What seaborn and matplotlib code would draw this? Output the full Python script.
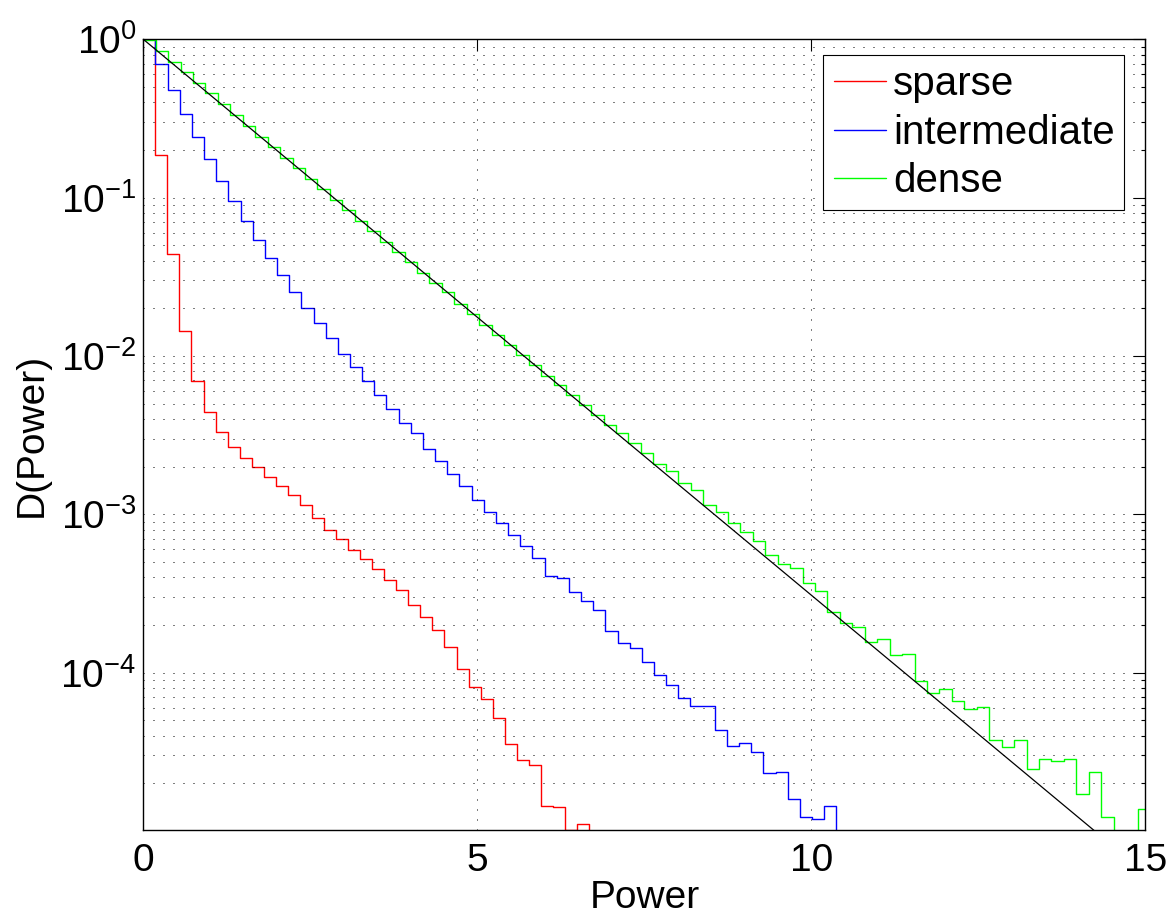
import numpy as np
import pandas as pd
import matplotlib
matplotlib.use("Agg")
import matplotlib.pyplot as plt
import seaborn as sns
from matplotlib.lines import Line2D
from matplotlib.ticker import LogLocator, NullFormatter, FixedLocator, FixedFormatter, LogFormatterSciNotation

# ---------------- data ----------------
series_labels = ["sparse", "intermediate", "dense"]
series_colors = ["#ff0000", "#0000ff", "#00ff00"]

# histogram bin widths (each bin i spans [i*w, (i+1)*w])
sparse_bin_width = 0.1803
intermediate_bin_width = 0.1820
dense_bin_width = 0.18619

# D(Power) per bin; the first sparse / intermediate bins lie above the plot top
sparse_D = [4.0, 0.187, 0.0441, 0.01445, 0.00698, 0.00442, 0.00332, 0.00268,
            0.00228, 0.00199, 0.00173, 0.00150, 0.00132, 0.00114, 9.51e-4,
            7.96e-4, 6.95e-4, 5.94e-4, 5.19e-4, 4.53e-4, 3.85e-4, 3.33e-4,
            2.68e-4, 2.23e-4, 1.85e-4, 1.45e-4, 1.06e-4, 8.11e-5, 6.81e-5,
            5.19e-5, 3.53e-5, 2.79e-5, 2.60e-5, 1.44e-5, 1.42e-5, 1.02e-5,
            1.10e-5]

intermediate_D = [1.5, 0.695, 0.480, 0.338, 0.241, 0.175, 0.127, 0.0951,
                  0.0714, 0.0542, 0.0417, 0.0325, 0.0255, 0.0201, 0.0162,
                  0.0130, 0.01035, 0.00847, 0.00690, 0.00569, 0.00461,
                  0.00376, 0.00324, 0.00259, 0.00218, 0.00179, 0.00150,
                  0.00124, 0.00104, 8.77e-4, 7.40e-4, 6.27e-4, 5.28e-4,
                  4.09e-4, 3.95e-4, 3.22e-4, 2.82e-4, 2.47e-4, 1.83e-4,
                  1.55e-4, 1.43e-4, 1.17e-4, 9.66e-5, 8.32e-5, 6.95e-5,
                  6.15e-5, 6.15e-5, 4.32e-5, 3.44e-5, 3.62e-5, 3.15e-5,
                  2.34e-5, 2.37e-5, 1.60e-5, 1.23e-5, 1.19e-5, 1.43e-5]

dense_D = [0.991, 0.847, 0.721, 0.621, 0.531, 0.455, 0.389, 0.332, 0.284,
           0.242, 0.208, 0.178, 0.153, 0.131, 0.113, 0.0973, 0.0834, 0.0711,
           0.0612, 0.0527, 0.0453, 0.0390, 0.0334, 0.0290, 0.0252, 0.0213,
           0.0185, 0.0158, 0.0136, 0.0117, 0.0101, 0.00881, 0.00750,
           0.00655, 0.00564, 0.00488, 0.00421, 0.00367, 0.00326, 0.00281,
           0.00243, 0.00207, 0.00187, 0.00158, 0.00142, 0.00115, 0.00103,
           8.87e-4, 7.73e-4, 6.75e-4, 5.50e-4, 4.82e-4, 4.55e-4, 3.67e-4,
           3.30e-4, 2.41e-4, 2.07e-4, 1.93e-4, 1.57e-4, 1.62e-4, 1.30e-4,
           1.32e-4, 8.89e-5, 7.45e-5, 7.83e-5, 6.65e-5, 5.86e-5, 6.10e-5,
           3.78e-5, 3.37e-5, 3.78e-5, 2.45e-5, 2.86e-5, 2.76e-5, 2.86e-5,
           1.71e-5, 2.36e-5, 1.22e-5, 0.0, 0.0, 1.38e-5]

# reference exponential law (straight line on the semilog axes)
theory_power = [0.0, 14.24]
theory_D = [1.0, 1.0e-5]

x_ticks = [0, 5, 10, 15]
x_tick_labels = ["0", "5", "10", "15"]
y_ticks = [1e-4, 1e-3, 1e-2, 1e-1, 1e0]


def steps_frame(name, width, values):
    edges = width * np.arange(len(values) + 1)
    d = list(values) + [0.0]
    return pd.DataFrame({"Power": edges, "D": d, "series": name})


df = pd.concat([
    steps_frame("sparse", sparse_bin_width, sparse_D),
    steps_frame("intermediate", intermediate_bin_width, intermediate_D),
    steps_frame("dense", dense_bin_width, dense_D),
], ignore_index=True)

# ---------------- style ----------------
sns.set_style("white")
plt.rcParams.update({
    "font.family": ["Liberation Sans", "DejaVu Sans"],
    "mathtext.fontset": "custom",
    "mathtext.rm": "Liberation Sans",
    "mathtext.it": "Liberation Sans:italic",
    "mathtext.bf": "Liberation Sans:bold",
    "font.size": 28,
    "axes.unicode_minus": True,
    "text.color": "black",
    "axes.labelcolor": "black",
    "xtick.color": "black",
    "ytick.color": "black",
    "axes.edgecolor": "black",
})

fig = plt.figure(figsize=(11.71, 9.17), dpi=100)
ax = fig.add_axes([0.12237, 0.09455, 0.85585, 0.86260])

sns.lineplot(data=df, x="Power", y="D", hue="series", hue_order=series_labels,
             palette=series_colors, estimator=None, sort=False,
             drawstyle="steps-post", linewidth=1.0, ax=ax, legend=False)
sns.lineplot(x=theory_power, y=theory_D, color="k", linewidth=0.9, ax=ax,
             legend=False, estimator=None, sort=False)

ax.set_yscale("log")
ax.set_xlim(0, 15)
ax.set_ylim(1.01e-5, 1.0)

ax.xaxis.set_major_locator(FixedLocator(x_ticks))
ax.xaxis.set_major_formatter(FixedFormatter(x_tick_labels))
ax.yaxis.set_major_locator(FixedLocator(y_ticks))
ax.yaxis.set_major_formatter(LogFormatterSciNotation())
ax.yaxis.set_minor_locator(LogLocator(base=10, subs=np.arange(2, 10), numticks=20))
ax.yaxis.set_minor_formatter(NullFormatter())

ax.tick_params(which="both", direction="in", top=True, right=True,
               color="k", width=0.8, labelsize=28, labelcolor="k")
ax.tick_params(which="major", length=8.5)
ax.tick_params(which="minor", length=3.2)
ax.tick_params(axis="x", which="major", pad=9)
ax.tick_params(axis="y", which="major", pad=5)

grid_kw = dict(color="k", linewidth=0.72, linestyle=(0, (1, 9)))
ax.grid(True, which="major", axis="both", **grid_kw)
ax.grid(True, which="minor", axis="y", **grid_kw)
ax.set_axisbelow(False)

for sp in ax.spines.values():
    sp.set_color("k")
    sp.set_linewidth(1.0)

ax.set_xlabel("Power", fontsize=28, color="k")
ax.set_ylabel("D(Power)", fontsize=28, color="k")
ax.xaxis.set_label_coords(0.5, -0.063)
ax.yaxis.set_label_coords(-0.093, 0.5)
ax.xaxis.label.set_va("top")

handles = [Line2D([0], [0], color=c, linewidth=1.0) for c in series_colors]
leg = ax.legend(handles, series_labels, loc="upper right",
                bbox_to_anchor=(0.979, 0.980), borderaxespad=0.0,
                fontsize=29, frameon=True, fancybox=False, framealpha=1.0,
                edgecolor="k", handlelength=1.3, handletextpad=0.17,
                labelspacing=0.26, borderpad=0.25)
leg.get_frame().set_linewidth(0.8)
for t in leg.get_texts():
    t.set_color("k")

fig.savefig("out.png", dpi=100)
